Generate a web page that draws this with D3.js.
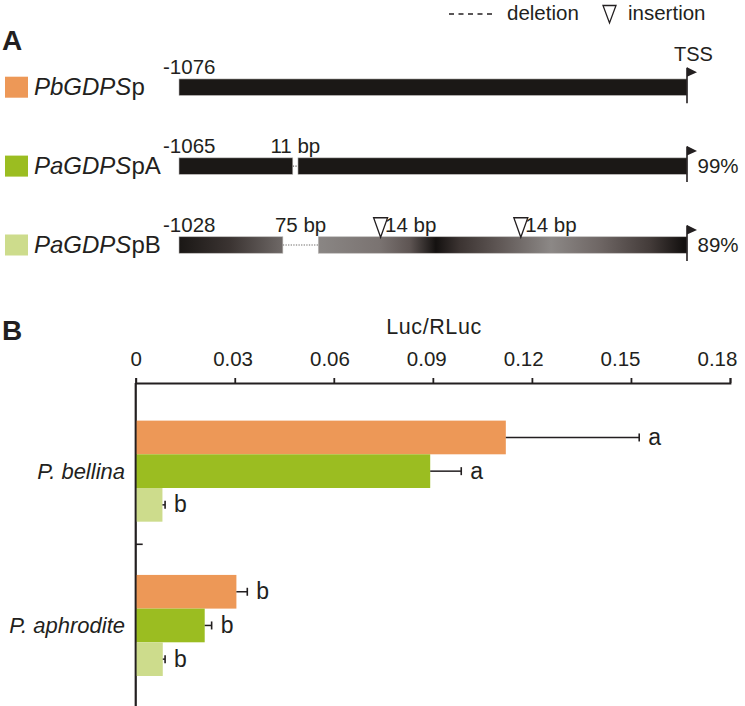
<!DOCTYPE html>
<html>
<head>
<meta charset="utf-8">
<script src="https://cdn.jsdelivr.net/npm/d3@7"></script>
<style>
  html, body { margin: 0; padding: 0; background: #fff; }
  svg { display: block; }
  text { font-family: "Liberation Sans", Arial, Helvetica, sans-serif; fill: #231f20; }
</style>
</head>
<body>
<svg id="chart" width="745" height="706"></svg>
<script>
// ---------------- DATA ----------------
const species = ["P. bellina", "P. aphrodite"];
const promoters = ["PbGDPSp", "PaGDPSpA", "PaGDPSpB"];
const promoterItalic = ["PbGDPS", "PaGDPS", "PaGDPS"];
const promoterSuffix = ["p", "pA", "pB"];

// Panel B values (Luc/RLuc), one array per promoter, ordered by species
const pbValues  = [0.1121, 0.0305];
const pbErrors  = [0.0404, 0.0033];
const pbLetters = ["a", "b"];
const paAValues  = [0.0892, 0.0209];
const paAErrors  = [0.0094, 0.0021];
const paALetters = ["a", "b"];
const paBValues  = [0.0081, 0.0082];
const paBErrors  = [0.0008, 0.0007];
const paBLetters = ["b", "b"];
const xTicks = [0, 0.03, 0.06, 0.09, 0.12, 0.15, 0.18];
const xTickLabels = ["0", "0.03", "0.06", "0.09", "0.12", "0.15", "0.18"];

// Panel A promoter structure (aligned bp positions relative to TSS)
const promoterStarts = [-1076, -1065, -1028];
const identities = ["", "99%", "89%"];
const deletionStarts = [[], [-835], [-856]];
const deletionLengths = [[], [11], [75]];
const insertionPositions = [[], [], [-649, -352]];
const insertionLengths = [[], [], [14, 14]];

// ---------------- STYLE ----------------
const colors = ["#ED9857", "#9BBD21", "#CDDC8C"];
const ink = "#231f20";
const barBlack = "#1b1816";

const svg = d3.select("#chart");

// ================= PANEL A =================
const xA = d3.scaleLinear().domain([-1076, 0]).range([179, 687]);
const rowY = d3.scalePoint().domain(promoters).range([87.2, 245]);
const barH = 16.5;

// gradient for the divergent PaGDPSpB promoter
const gradStops = [
  [-1076, "#1a1715"], [-968, "#3b3432"], [-858, "#6e6866"],
  [-782, "#8a8684"], [-650, "#7a7371"], [-587, "#5e5553"], [-532, "#141110"],
  [-481, "#3c3432"], [-396, "#605856"], [-288, "#8c8886"], [-184, "#6e6664"],
  [-78, "#433b39"], [-8, "#141110"], [0, "#141110"]
];
const defs = svg.append("defs");
const grad = defs.append("linearGradient").attr("id", "gradB")
  .attr("gradientUnits", "userSpaceOnUse")
  .attr("x1", xA(-1076)).attr("x2", xA(0)).attr("y1", 0).attr("y2", 0);
const gOff = d3.scaleLinear().domain([-1076, 0]).range([0, 1]);
gradStops.forEach(s => grad.append("stop").attr("offset", gOff(s[0])).attr("stop-color", s[1]));

// panel letter A
svg.append("text").attr("x", 2).attr("y", 50).attr("font-size", 28).attr("font-weight", "bold").text("A");

// legend
svg.append("line").attr("x1", 449).attr("x2", 496).attr("y1", 14).attr("y2", 14)
  .attr("stroke", ink).attr("stroke-width", 1.3).attr("stroke-dasharray", "5,4.5");
svg.append("text").attr("x", 507).attr("y", 19.5).attr("font-size", 20.5).text("deletion");
svg.append("path").attr("d", "M603,5.5 L616,5.5 L609.5,23 Z")
  .attr("fill", "#fff").attr("stroke", ink).attr("stroke-width", 1.3);
svg.append("text").attr("x", 628).attr("y", 19.5).attr("font-size", 20.5).text("insertion");

promoters.forEach((p, i) => {
  const cy = rowY(p);
  const g = svg.append("g");
  // swatch
  g.append("rect").attr("x", 5).attr("y", cy - 10.5).attr("width", 23).attr("height", 21)
    .attr("fill", colors[i]);
  // label
  const t = g.append("text").attr("x", 34).attr("y", cy + 8).attr("font-size", 24);
  t.append("tspan").attr("font-style", "italic").text(promoterItalic[i]);
  t.append("tspan").text(promoterSuffix[i]);
  // start position label
  g.append("text").attr("x", xA(-1076) - 16).attr("y", cy - barH / 2 - 5)
    .attr("font-size", 20.5).text(String(promoterStarts[i]));

  // segments = full range minus deletions
  const dels = deletionStarts[i].map((s, k) => [s, s + deletionLengths[i][k]]);
  const segs = [];
  let cur = -1076;
  dels.forEach(d => { segs.push([cur, d[0]]); cur = d[1]; });
  segs.push([cur, 0]);
  const fill = i === 2 ? "url(#gradB)" : barBlack;
  segs.forEach(s => {
    g.append("rect").attr("x", xA(s[0])).attr("y", cy - barH / 2)
      .attr("width", xA(s[1]) - xA(s[0])).attr("height", barH)
      .attr("fill", fill).attr("stroke", "#bdbab8").attr("stroke-width", 0.6);
  });
  // deletions: dotted line + label
  dels.forEach((d, k) => {
    g.append("line").attr("x1", xA(d[0])).attr("x2", xA(d[1]))
      .attr("y1", cy).attr("y2", cy)
      .attr("stroke", "#6d6a68").attr("stroke-width", 1.2).attr("stroke-dasharray", "1.3,1.3");
    g.append("text").attr("x", (xA(d[0]) + xA(d[1])) / 2).attr("y", cy - barH / 2 - 5)
      .attr("text-anchor", "middle").attr("font-size", 20.5)
      .text(deletionLengths[i][k] + " bp");
  });
  // insertions: triangle + label
  insertionPositions[i].forEach((pos, k) => {
    const ax = xA(pos);
    const tipY = cy - barH / 2 + 0.5;
    g.append("path").attr("d", `M${ax - 7},${tipY - 19.5} L${ax + 7},${tipY - 19.5} L${ax},${tipY} Z`)
      .attr("fill", "#fff").attr("stroke", ink).attr("stroke-width", 1.3);
    g.append("text").attr("x", ax + 4.5).attr("y", cy - barH / 2 - 5)
      .attr("font-size", 20.5).text(insertionLengths[i][k] + " bp");
  });
  // TSS arrow
  const tx = xA(0);
  g.append("line").attr("x1", tx).attr("x2", tx).attr("y1", cy - 19.5).attr("y2", cy + 16)
    .attr("stroke", ink).attr("stroke-width", 1.6);
  g.append("path").attr("d", `M${tx},${cy - 20} L${tx + 10},${cy - 15} L${tx},${cy - 10.5} Z`)
    .attr("fill", ink);
  if (i === 0) {
    g.append("text").attr("x", tx - 13).attr("y", cy - 26.5).attr("font-size", 20).text("TSS");
  }
  if (identities[i]) {
    g.append("text").attr("x", tx + 10.5).attr("y", cy + 6.7).attr("font-size", 20.5).text(identities[i]);
  }
});

// ================= PANEL B =================
svg.append("text").attr("x", 2).attr("y", 340).attr("font-size", 28).attr("font-weight", "bold").text("B");

const axisY = 383;
const x = d3.scaleLinear().domain([0, 0.18]).range([135.7, 730]);
const y = d3.scaleBand().domain(species).range([394, 702.6]).paddingInner(0.345).paddingOuter(0.1725);
const yInner = d3.scaleBand().domain(promoters).range([0, y.bandwidth()]);
// tick labels in the original are spaced slightly tighter than the ticks
const xLabel = d3.scaleLinear().domain(x.domain())
  .range([x(0), x(0) + (x(0.18) - x(0)) * 0.978]);

// axis title
svg.append("text").attr("x", 434).attr("y", 333.5).attr("text-anchor", "middle")
  .attr("font-size", 21.5).attr("letter-spacing", 0.6).text("Luc/RLuc");

const xAxis = d3.axisTop(x).tickValues(xTicks).tickSize(5).tickSizeOuter(5)
  .tickFormat((d, i) => xTickLabels[i]);
const gx = svg.append("g").attr("transform", `translate(0,${axisY})`).call(xAxis);
gx.select(".domain").attr("stroke", ink).attr("stroke-width", 1.8);
gx.selectAll(".tick line").attr("stroke", ink).attr("stroke-width", 1.8);
gx.selectAll(".tick text")
  .attr("font-size", 20.5).attr("font-family", "'Liberation Sans', Arial, sans-serif")
  .attr("fill", ink).attr("y", -17).attr("dy", 0)
  .attr("x", d => xLabel(d) - x(d));

// vertical axis
svg.append("line").attr("x1", x(0)).attr("x2", x(0)).attr("y1", axisY).attr("y2", 706)
  .attr("stroke", ink).attr("stroke-width", 1.8);
// category boundary tick
const boundaryY = y(species[0]) + y.step() - y.step() * y.paddingInner() / 2 - 4;
svg.append("line").attr("x1", x(0)).attr("x2", x(0) + 7).attr("y1", boundaryY).attr("y2", boundaryY)
  .attr("stroke", ink).attr("stroke-width", 1.6);

// species labels
species.forEach(s => {
  svg.append("text").attr("x", 125).attr("y", y(s) + y.bandwidth() / 2 + 7.5)
    .attr("text-anchor", "end").attr("font-size", 22).attr("font-style", "italic").text(s);
});

const seriesValues = [pbValues, paAValues, paBValues];
const seriesErrors = [pbErrors, paAErrors, paBErrors];
const seriesLetters = [pbLetters, paALetters, paBLetters];

promoters.forEach((p, j) => {
  species.forEach((s, i) => {
    const v = seriesValues[j][i], e = seriesErrors[j][i];
    const y0 = y(s) + yInner(p);
    const cy = y0 + yInner.bandwidth() / 2;
    svg.append("rect").attr("x", x(0)).attr("y", y0)
      .attr("width", x(v) - x(0)).attr("height", yInner.bandwidth())
      .attr("fill", colors[j]);
    svg.append("line").attr("x1", x(v)).attr("x2", x(v + e)).attr("y1", cy).attr("y2", cy)
      .attr("stroke", ink).attr("stroke-width", 1.5);
    svg.append("line").attr("x1", x(v + e)).attr("x2", x(v + e)).attr("y1", cy - 4).attr("y2", cy + 4)
      .attr("stroke", ink).attr("stroke-width", 1.6);
    svg.append("text").attr("x", x(v + e) + 9).attr("y", cy + 7.5)
      .attr("font-size", 23).text(seriesLetters[j][i]);
  });
});
// redraw vertical axis over bars
svg.append("line").attr("x1", x(0)).attr("x2", x(0)).attr("y1", axisY).attr("y2", 706)
  .attr("stroke", ink).attr("stroke-width", 1.8);
</script>
</body>
</html>
